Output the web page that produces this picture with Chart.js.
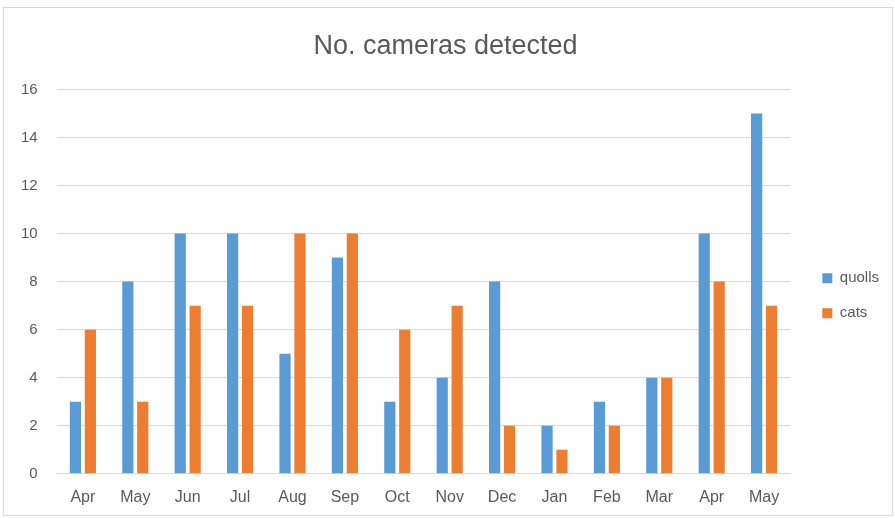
<!DOCTYPE html>
<html>
<head>
<meta charset="utf-8">
<script src="https://cdn.jsdelivr.net/npm/chart.js@4/dist/chart.umd.min.js"></script>
<style>
  html, body { margin: 0; padding: 0; background: #fff; }
  #wrap { position: absolute; left: 3px; top: 7px; width: 890px; height: 509px; border: 1px solid #d9d9d9; box-sizing: border-box; }
  canvas { display: block; }
</style>
</head>
<body>
<div id="wrap"><canvas id="graph-cameras"></canvas></div>
<script>
const months = ["Apr", "May", "Jun", "Jul", "Aug", "Sep", "Oct", "Nov", "Dec", "Jan", "Feb", "Mar", "Apr", "May"];
const quolls = [3, 8, 10, 10, 5, 9, 3, 4, 8, 2, 3, 4, 10, 15];
const cats = [6, 3, 7, 7, 10, 10, 6, 7, 2, 1, 2, 4, 8, 7];
const yTicks = [0, 2, 4, 6, 8, 10, 12, 14, 16];

const fontFamily = "'Liberation Sans', sans-serif";
const textColor = "#595959";

new Chart(document.getElementById("graph-cameras"), {
  type: "bar",
  data: {
    labels: months,
    datasets: [
      { label: "quolls", data: quolls, backgroundColor: "#5b9bd5", barPercentage: 0.75, categoryPercentage: 0.57 },
      { label: "cats", data: cats, backgroundColor: "#ed7d31", barPercentage: 0.75, categoryPercentage: 0.57 },
    ],
  },
  options: {
    responsive: true,
    maintainAspectRatio: false,
    animation: false,
    layout: { padding: { left: -2, right: 3, top: 0, bottom: 2 } },
    plugins: {
      title: {
        display: true,
        text: "No. cameras detected",
        color: textColor,
        font: { family: fontFamily, size: 27, weight: "normal" },
        padding: { top: 22, bottom: 27 },
      },
      legend: {
        position: "right",
        title: { display: true, text: " ", font: { size: 12 }, padding: { top: 28, bottom: 28 } },
        labels: {
          boxWidth: 10,
          boxHeight: 10,
          padding: 20,
          color: textColor,
          font: { family: fontFamily, size: 15 },
        },
      },
      tooltip: { enabled: false },
    },
    scales: {
      x: {
        grid: { display: false },
        border: { color: "#d9d9d9" },
        ticks: { color: textColor, font: { family: fontFamily, size: 16 }, padding: 6 },
      },
      y: {
        min: 0,
        max: 16,
        afterBuildTicks: (axis) => { axis.ticks = yTicks.map((v) => ({ value: v })); },
        grid: { color: "#d9d9d9", drawTicks: false },
        border: { display: false },
        ticks: { color: textColor, font: { family: fontFamily, size: 15 }, padding: 19 },
      },
      // empty right-hand strip between the plot and the legend
      gap: {
        axis: "y",
        position: "right",
        grid: { display: false },
        border: { display: false },
        ticks: { display: false },
        afterFit: (scale) => { scale.width = 12; },
      },
    },
  },
});
</script>
</body>
</html>
